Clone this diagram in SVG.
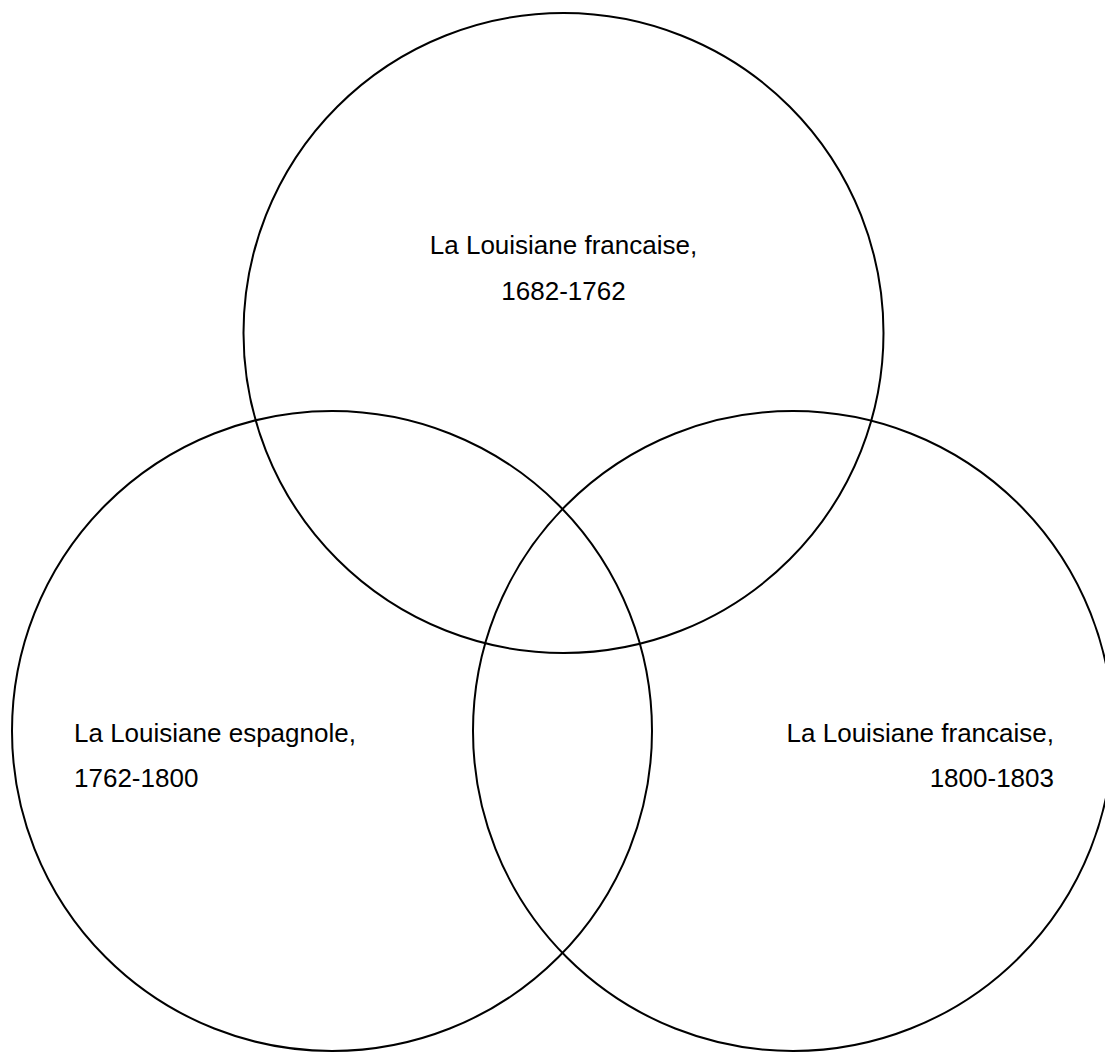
<svg xmlns="http://www.w3.org/2000/svg" width="1105" height="1053" viewBox="0 0 1105 1053">
<style>
.c{fill:none;stroke:#000;stroke-width:2}
.t{font-family:"Liberation Sans",Arial,sans-serif;font-size:26px;fill:#000}
</style>
<rect width="1105" height="1053" fill="#fff"/>
<g id="node-top">
<circle class="c" cx="563.5" cy="333" r="320"/>
<text class="t" x="563.5" y="254" text-anchor="middle">La Louisiane francaise,</text>
<text class="t" x="563.5" y="300" text-anchor="middle">1682-1762</text>
</g>
<g id="node-left">
<circle class="c" cx="332" cy="731" r="320"/>
<text class="t" x="74" y="742">La Louisiane espagnole,</text>
<text class="t" x="74" y="787">1762-1800</text>
</g>
<g id="node-right">
<circle class="c" cx="793" cy="731" r="320"/>
<text class="t" x="1054" y="742" text-anchor="end">La Louisiane francaise,</text>
<text class="t" x="1054" y="787" text-anchor="end">1800-1803</text>
</g>
<g id="connectors"></g>
</svg>
